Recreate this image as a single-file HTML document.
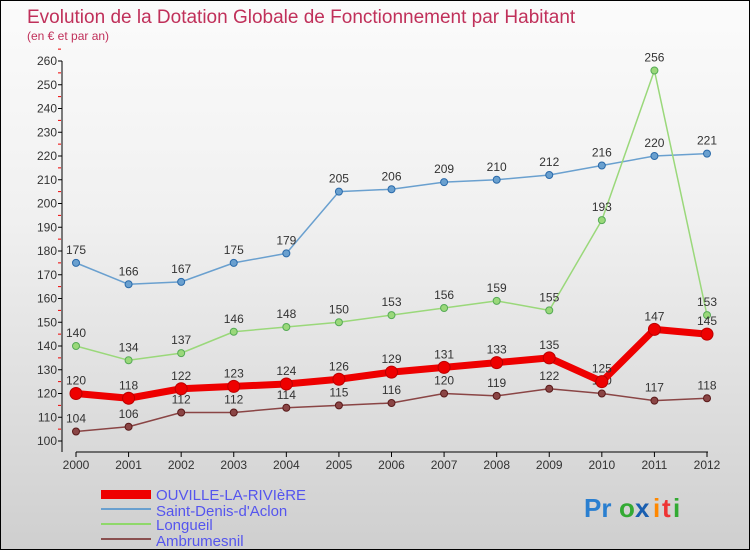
<!DOCTYPE html>
<html><head><meta charset="utf-8"><style>
body{margin:0}
#c{width:748px;height:548px;border:1px solid #000;background:linear-gradient(#fbfbfb,#f0f0f0 40%,#cfcfcf);position:relative;font-family:"Liberation Sans",sans-serif;overflow:hidden}
</style></head><body>
<div id="c">
<svg width="748" height="548" id="s">
<text x="26" y="22" font-size="19" fill="#c0305a">Evolution de la Dotation Globale de Fonctionnement par Habitant</text>
<text x="26" y="39" font-size="12" fill="#c0305a">(en € et par an)</text>
<g id="axes"></g><g id="series"></g>
<g>
<rect x="100" y="489" width="50" height="9" fill="#e00"/>
<text x="155" y="499" font-size="15" fill="#5555ee">OUVILLE-LA-RIVIèRE</text>
<rect x="100" y="507" width="50" height="2" fill="#6aa0cf"/>
<text x="155" y="515" font-size="15" fill="#5555ee">Saint-Denis-d'Aclon</text>
<rect x="100" y="522" width="50" height="2" fill="#8fd86a"/>
<text x="155" y="529" font-size="15" fill="#5555ee">Longueil</text>
<rect x="100" y="537" width="50" height="2" fill="#8a5050"/>
<text x="155" y="545" font-size="15" fill="#5555ee">Ambrumesnil</text>
</g>
<g font-size="26" font-weight="bold">
<text x="583" y="516" fill="#2a7fd0">Pr</text><text x="618" y="516" fill="#3a3">o</text><text x="634" y="516" fill="#1a5fb0">x</text><text x="652" y="516" fill="#f80">i</text><text x="661" y="516" fill="#e33">t</text><text x="672" y="516" fill="#3a3">i</text>
</g>
</svg></div>
<script>
const years=[2000,2001,2002,2003,2004,2005,2006,2007,2008,2009,2010,2011,2012];
const ouville=[120,118,122,123,124,126,129,131,133,135,125,147,145];
const saintDenis=[175,166,167,175,179,205,206,209,210,212,216,220,221];
const longueil=[140,134,137,146,148,150,153,156,159,155,193,256,153];
const ambrumesnil=[104,106,112,112,114,115,116,120,119,122,120,117,118];
const yTicks=[100,110,120,130,140,150,160,170,180,190,200,210,220,230,240,250,260];
const NS="http://www.w3.org/2000/svg";
const X=i=>75+i*(706-75)/(years.length-1);
const Y=v=>440-(v-100)*(380/160);
function mk(t,a,p){const e=document.createElementNS(NS,t);for(const k in a)e.setAttribute(k,a[k]);p.appendChild(e);return e;}
const ax=document.getElementById('axes');
const yl=mk('line',{x1:61,y1:60,x2:61,y2:451,stroke:'#000'},ax);


const xl=mk('line',{x1:75,y1:451,x2:707,y2:451,stroke:'#000'},ax);


yTicks.forEach(v=>{
 mk('line',{x1:57,x2:61,y1:Y(v),y2:Y(v),stroke:'#000'},ax);
 mk('line',{x1:57,x2:60,y1:Y(v+5),y2:Y(v+5),stroke:'#e00'},ax);
 const t=mk('text',{x:56,y:Y(v)+4,'font-size':12,'text-anchor':'end',fill:'#333'},ax);t.textContent=v;
 
 
});
years.forEach((yr,i)=>{
 mk('line',{x1:X(i),x2:X(i),y1:451,y2:456,stroke:'#000'},ax);
 const t=mk('text',{x:X(i),y:468,'font-size':12,'text-anchor':'middle',fill:'#333'},ax);t.textContent=yr;
 
 
});
const sg=document.getElementById('series');
function draw(d,col,w,r,name,dark){
 const g=mk('g',{},sg);
 
 
 mk('polyline',{points:d.map((v,i)=>X(i)+','+Y(v)).join(' '),fill:'none',stroke:col,'stroke-width':w,'stroke-linejoin':'round'},g);
 d.forEach((v,i)=>{
  const c=mk('circle',{cx:X(i),cy:Y(v),r:r,fill:col,stroke:dark,'stroke-width':1},g);
  
  
  const t=mk('text',{x:X(i),y:Y(v)-9,'font-size':12,'text-anchor':'middle',fill:'#333'},g);t.textContent=v;
  
  
 });
}
draw(saintDenis,'#6aa0cf',1.5,3.5,'series-saint-denis','#2a6aaa');
draw(longueil,'#9ad87a',1.5,3.5,'series-longueil','#5a5');
draw(ambrumesnil,'#8a4545',1.5,3.5,'series-ambrumesnil','#5a1a1a');
draw(ouville,'#ee0000',7,6,'series-ouville','#b00');
</script>
</body></html>
